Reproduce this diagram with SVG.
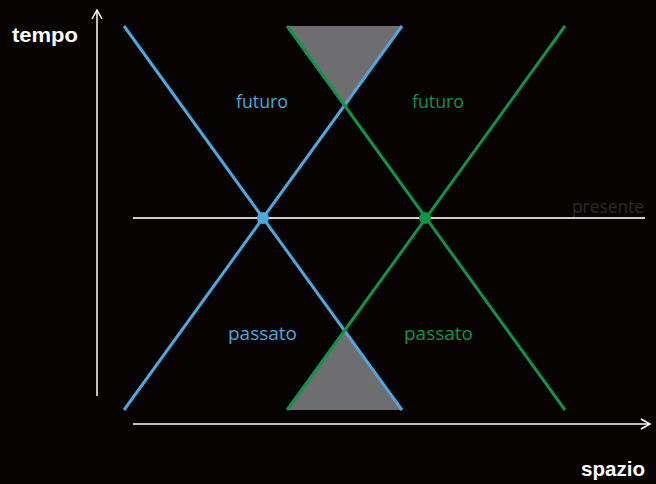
<svg xmlns="http://www.w3.org/2000/svg" width="656" height="484" viewBox="0 0 656 484">
<defs>
<style>
.ax{stroke:#ffffff;stroke-width:1.5;fill:none}
.blue{stroke:#4aa8de;stroke-width:3;fill:none}
.green{stroke:#0e9444;stroke-width:3;fill:none}
.cone{fill:#6e6e70;stroke:none}
.lbl{font-family:"Open Sans","Liberation Sans",sans-serif;font-size:18px}
.axl{font-family:"Liberation Sans",Arial,sans-serif;font-size:21px;font-weight:bold;fill:#ffffff}
</style>
<marker id="arr" viewBox="0 0 12 12" refX="10" refY="6" markerWidth="12" markerHeight="12" markerUnits="userSpaceOnUse" orient="auto">
<path d="M1,1 L10,6 L1,11" fill="none" stroke="#ffffff" stroke-width="1.5"/>
</marker>
</defs>
<rect width="656" height="484" fill="#070303"/>
<g id="cones">
<polygon class="cone" points="287,26 402,26 344.5,106"/>
<polygon class="cone" points="287,410 402,410 344.5,330"/>
</g>
<g id="connectors">
<line class="ax" x1="97" y1="396" x2="97" y2="10" marker-end="url(#arr)"/>
<line class="ax" x1="133" y1="424" x2="650" y2="424" marker-end="url(#arr)"/>
<line x1="133" y1="218" x2="645" y2="218" stroke="#cfcfcf" stroke-width="2"/>
<line class="blue" x1="124" y1="26" x2="402" y2="410"/>
<line class="blue" x1="124" y1="410" x2="402" y2="26"/>
<line class="green" x1="287" y1="26" x2="565" y2="410"/>
<line class="green" x1="287" y1="410" x2="565" y2="26"/>
</g>
<g id="event-blue"><circle cx="263" cy="218" r="6" fill="#4aa8de"/></g>
<g id="event-green"><circle cx="425" cy="218" r="6" fill="#0e9444"/></g>
<g id="labels">
<text class="axl" x="12" y="42" textLength="66" lengthAdjust="spacingAndGlyphs">tempo</text>
<text class="axl" x="581" y="476" textLength="64" lengthAdjust="spacingAndGlyphs">spazio</text>
<text class="lbl" x="572" y="213" fill="#2c2a2a" font-size="17" textLength="72" lengthAdjust="spacingAndGlyphs">presente</text>
<text class="lbl" x="236" y="108" fill="#4aa8de" textLength="52" lengthAdjust="spacingAndGlyphs">futuro</text>
<text class="lbl" x="412" y="108" fill="#0e9444" textLength="52" lengthAdjust="spacingAndGlyphs">futuro</text>
<text class="lbl" x="228" y="340" fill="#4aa8de" textLength="69" lengthAdjust="spacingAndGlyphs">passato</text>
<text class="lbl" x="404" y="340" fill="#0e9444" textLength="69" lengthAdjust="spacingAndGlyphs">passato</text>
</g>
</svg>
